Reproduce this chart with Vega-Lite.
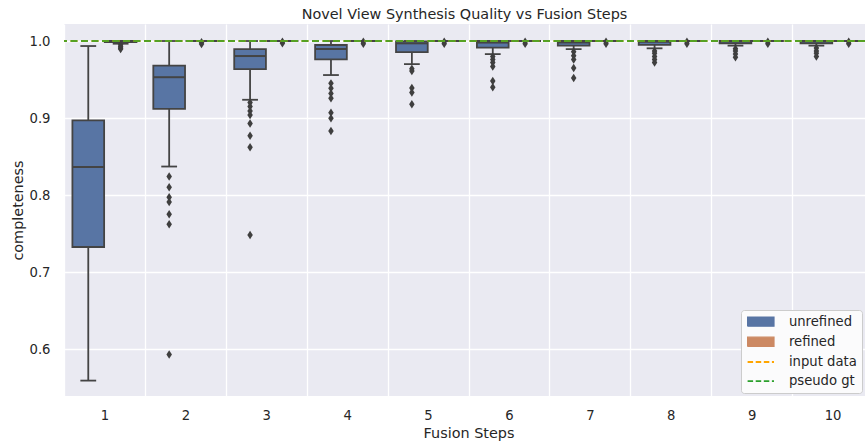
{
  "$schema": "https://vega.github.io/schema/vega-lite/v6.json",
  "width": 801,
  "height": 372,
  "autosize": {"type": "none"},
  "padding": {"left": 64, "top": 24, "right": 0, "bottom": 49},
  "title": {"text": "Novel View Synthesis Quality vs Fusion Steps", "fontSize": 14.4, "fontWeight": "normal", "color": "#262626", "anchor": "middle", "offset": 6, "dy": 15, "baseline": "alphabetic"},
  "datasets": {
    "boxes": [
      {"step": 1, "hue": "unrefined", "lower": 0.559, "q1": 0.7325, "median": 0.8365, "q3": 0.897, "upper": 0.9935},
      {"step": 1, "hue": "refined", "lower": 0.9965, "q1": 0.9985, "median": 1.0, "q3": 1.0, "upper": 1.0},
      {"step": 2, "hue": "unrefined", "lower": 0.837, "q1": 0.912, "median": 0.953, "q3": 0.968, "upper": 1.0},
      {"step": 2, "hue": "refined", "lower": 1.0, "q1": 1.0, "median": 1.0, "q3": 1.0, "upper": 1.0},
      {"step": 3, "hue": "unrefined", "lower": 0.9237, "q1": 0.9636, "median": 0.9805, "q3": 0.9896, "upper": 1.0},
      {"step": 3, "hue": "refined", "lower": 1.0, "q1": 1.0, "median": 1.0, "q3": 1.0, "upper": 1.0},
      {"step": 4, "hue": "unrefined", "lower": 0.9558, "q1": 0.9762, "median": 0.9896, "q3": 0.9948, "upper": 1.0},
      {"step": 4, "hue": "refined", "lower": 1.0, "q1": 1.0, "median": 1.0, "q3": 1.0, "upper": 1.0},
      {"step": 5, "hue": "unrefined", "lower": 0.970, "q1": 0.9855, "median": 0.997, "q3": 0.9995, "upper": 1.0},
      {"step": 5, "hue": "refined", "lower": 1.0, "q1": 1.0, "median": 1.0, "q3": 1.0, "upper": 1.0},
      {"step": 6, "hue": "unrefined", "lower": 0.983, "q1": 0.9915, "median": 0.998, "q3": 1.0, "upper": 1.0},
      {"step": 6, "hue": "refined", "lower": 1.0, "q1": 1.0, "median": 1.0, "q3": 1.0, "upper": 1.0},
      {"step": 7, "hue": "unrefined", "lower": 0.9896, "q1": 0.994, "median": 0.998, "q3": 1.0, "upper": 1.0},
      {"step": 7, "hue": "refined", "lower": 1.0, "q1": 1.0, "median": 1.0, "q3": 1.0, "upper": 1.0},
      {"step": 8, "hue": "unrefined", "lower": 0.9905, "q1": 0.995, "median": 0.999, "q3": 1.0, "upper": 1.0},
      {"step": 8, "hue": "refined", "lower": 1.0, "q1": 1.0, "median": 1.0, "q3": 1.0, "upper": 1.0},
      {"step": 9, "hue": "unrefined", "lower": 0.994, "q1": 0.997, "median": 0.9995, "q3": 1.0, "upper": 1.0},
      {"step": 9, "hue": "refined", "lower": 1.0, "q1": 1.0, "median": 1.0, "q3": 1.0, "upper": 1.0},
      {"step": 10, "hue": "unrefined", "lower": 0.994, "q1": 0.997, "median": 0.9995, "q3": 1.0, "upper": 1.0},
      {"step": 10, "hue": "refined", "lower": 1.0, "q1": 1.0, "median": 1.0, "q3": 1.0, "upper": 1.0}
    ],
    "outliers": [
      {"step": 1, "hue": "refined", "value": 0.995},
      {"step": 1, "hue": "refined", "value": 0.993},
      {"step": 1, "hue": "refined", "value": 0.991},
      {"step": 1, "hue": "refined", "value": 0.9895},
      {"step": 2, "hue": "unrefined", "value": 0.824},
      {"step": 2, "hue": "unrefined", "value": 0.81},
      {"step": 2, "hue": "unrefined", "value": 0.797},
      {"step": 2, "hue": "unrefined", "value": 0.791},
      {"step": 2, "hue": "unrefined", "value": 0.775},
      {"step": 2, "hue": "unrefined", "value": 0.762},
      {"step": 2, "hue": "unrefined", "value": 0.593},
      {"step": 2, "hue": "refined", "value": 0.9985},
      {"step": 2, "hue": "refined", "value": 0.996},
      {"step": 3, "hue": "unrefined", "value": 0.920},
      {"step": 3, "hue": "unrefined", "value": 0.915},
      {"step": 3, "hue": "unrefined", "value": 0.909},
      {"step": 3, "hue": "unrefined", "value": 0.904},
      {"step": 3, "hue": "unrefined", "value": 0.893},
      {"step": 3, "hue": "unrefined", "value": 0.877},
      {"step": 3, "hue": "unrefined", "value": 0.862},
      {"step": 3, "hue": "unrefined", "value": 0.748},
      {"step": 3, "hue": "refined", "value": 0.999},
      {"step": 3, "hue": "refined", "value": 0.997},
      {"step": 4, "hue": "unrefined", "value": 0.945},
      {"step": 4, "hue": "unrefined", "value": 0.9386},
      {"step": 4, "hue": "unrefined", "value": 0.932},
      {"step": 4, "hue": "unrefined", "value": 0.9256},
      {"step": 4, "hue": "unrefined", "value": 0.907},
      {"step": 4, "hue": "unrefined", "value": 0.8996},
      {"step": 4, "hue": "unrefined", "value": 0.883},
      {"step": 4, "hue": "refined", "value": 0.999},
      {"step": 4, "hue": "refined", "value": 0.9965},
      {"step": 5, "hue": "unrefined", "value": 0.964},
      {"step": 5, "hue": "unrefined", "value": 0.961},
      {"step": 5, "hue": "unrefined", "value": 0.939},
      {"step": 5, "hue": "unrefined", "value": 0.933},
      {"step": 5, "hue": "unrefined", "value": 0.918},
      {"step": 5, "hue": "refined", "value": 0.999},
      {"step": 5, "hue": "refined", "value": 0.9965},
      {"step": 6, "hue": "unrefined", "value": 0.980},
      {"step": 6, "hue": "unrefined", "value": 0.976},
      {"step": 6, "hue": "unrefined", "value": 0.972},
      {"step": 6, "hue": "unrefined", "value": 0.967},
      {"step": 6, "hue": "unrefined", "value": 0.948},
      {"step": 6, "hue": "unrefined", "value": 0.940},
      {"step": 6, "hue": "refined", "value": 0.999},
      {"step": 6, "hue": "refined", "value": 0.9965},
      {"step": 7, "hue": "unrefined", "value": 0.986},
      {"step": 7, "hue": "unrefined", "value": 0.981},
      {"step": 7, "hue": "unrefined", "value": 0.976},
      {"step": 7, "hue": "unrefined", "value": 0.965},
      {"step": 7, "hue": "unrefined", "value": 0.952},
      {"step": 7, "hue": "refined", "value": 0.999},
      {"step": 7, "hue": "refined", "value": 0.9965},
      {"step": 8, "hue": "unrefined", "value": 0.987},
      {"step": 8, "hue": "unrefined", "value": 0.984},
      {"step": 8, "hue": "unrefined", "value": 0.980},
      {"step": 8, "hue": "unrefined", "value": 0.976},
      {"step": 8, "hue": "unrefined", "value": 0.972},
      {"step": 8, "hue": "refined", "value": 0.999},
      {"step": 8, "hue": "refined", "value": 0.9965},
      {"step": 9, "hue": "unrefined", "value": 0.990},
      {"step": 9, "hue": "unrefined", "value": 0.987},
      {"step": 9, "hue": "unrefined", "value": 0.983},
      {"step": 9, "hue": "unrefined", "value": 0.979},
      {"step": 9, "hue": "refined", "value": 0.999},
      {"step": 9, "hue": "refined", "value": 0.9965},
      {"step": 10, "hue": "unrefined", "value": 0.991},
      {"step": 10, "hue": "unrefined", "value": 0.987},
      {"step": 10, "hue": "unrefined", "value": 0.984},
      {"step": 10, "hue": "unrefined", "value": 0.980},
      {"step": 10, "hue": "refined", "value": 0.999},
      {"step": 10, "hue": "refined", "value": 0.9965}
    ],
    "refs": [
      {"label": "input data", "value": 1.0},
      {"label": "pseudo gt", "value": 1.0}
    ]
  },
  "encoding": {
    "y": {"type": "quantitative", "title": "completeness",
      "scale": {"domain": [0.539, 1.0221], "nice": false, "zero": false},
      "axis": {"values": [0.6, 0.7, 0.8, 0.9, 1.0], "format": ".1f", "grid": true, "labelPadding": 14, "titlePadding": 4}}
  },
  "layer": [
    {
      "encoding": {
        "x": {"field": "step", "type": "ordinal", "title": "Fusion Steps",
          "scale": {"type": "band", "paddingInner": 0, "paddingOuter": 0, "range": [0, 809]},
          "axis": {"labelAngle": 0, "tickBand": "extent", "grid": true, "labelPadding": 13, "titlePadding": 5}},
        "xOffset": {"field": "hue", "type": "nominal", "scale": {"domain": ["unrefined", "refined"], "paddingInner": 0.02, "paddingOuter": 0.26}}
      },
      "layer": [
        {
          "data": {"name": "boxes"},
          "mark": {"type": "rule", "color": "#444444", "strokeWidth": 1.8},
          "encoding": {"y": {"field": "lower"}, "y2": {"field": "upper"}}
        },
        {
          "data": {"name": "boxes"},
          "mark": {"type": "bar", "stroke": "#444444", "strokeWidth": 1.8, "opacity": 1},
          "encoding": {
            "y": {"field": "q1"},
            "y2": {"field": "q3"},
            "color": {"field": "hue", "type": "nominal",
              "scale": {"domain": ["unrefined", "refined", "input data", "pseudo gt"], "range": ["#5875A4", "#CC8963", "#FFA500", "#2CA02C"]},
              "legend": {
                "title": null, "orient": "bottom-right", "offset": 3,
                "padding": 5, "cornerRadius": 3, "strokeColor": "#cccccc", "fillColor": "#fbfbfc",
                "labelFontSize": 13.2, "labelColor": "#262626", "labelFont": "DejaVu Sans",
                "symbolSize": 100, "symbolOffset": 8.2, "labelOffset": 21.5, "rowPadding": 5.2,
                "encoding": {"symbols": {
                  "shape": {"value": {"expr": "(datum.value == 'input data' || datum.value == 'pseudo gt') ? 'M-2.64,0H2.64' : 'M-2.64,-0.92H2.64V0.92H-2.64Z'"}},
                  "fill": {"value": {"expr": "datum.value == 'unrefined' ? '#5875A4' : (datum.value == 'refined' ? '#CC8963' : 'transparent')"}},
                  "stroke": {"value": {"expr": "datum.value == 'input data' ? '#FFA500' : (datum.value == 'pseudo gt' ? '#2CA02C' : '#444444')"}},
                  "strokeDash": {"value": {"expr": "(datum.value == 'input data' || datum.value == 'pseudo gt') ? [5.5, 2.6] : [1, 0]"}},
                  "strokeWidth": {"value": {"expr": "(datum.value == 'input data' || datum.value == 'pseudo gt') ? 1.8 : 1.2"}},
                  "opacity": {"value": 1}
                }}
              }
            }
          }
        },
        {
          "data": {"name": "boxes"},
          "mark": {"type": "tick", "color": "#444444", "size": 31.5, "thickness": 2, "opacity": 1},
          "encoding": {"y": {"field": "median"}}
        },
        {
          "data": {"name": "boxes"},
          "mark": {"type": "tick", "color": "#444444", "size": 15.8, "thickness": 1.8, "opacity": 1},
          "encoding": {"y": {"field": "lower"}}
        },
        {
          "data": {"name": "boxes"},
          "mark": {"type": "tick", "color": "#444444", "size": 15.8, "thickness": 1.8, "opacity": 1},
          "encoding": {"y": {"field": "upper"}}
        },
        {
          "data": {"name": "outliers"},
          "mark": {"type": "point", "shape": "M0,-1L0.65,0L0,1L-0.65,0Z", "filled": true, "color": "#3f3f3f", "size": 72, "opacity": 1},
          "encoding": {"y": {"field": "value"}}
        }
      ]
    },
    {
      "data": {"name": "refs"},
      "mark": {"type": "rule", "strokeWidth": 2, "strokeDash": [7, 3.5]},
      "encoding": {
        "y": {"field": "value"},
        "color": {"field": "label", "type": "nominal",
          "legend": {
            "title": null, "orient": "bottom-right", "offset": 3,
            "padding": 5, "cornerRadius": 3, "strokeColor": "#cccccc", "fillColor": "#fbfbfc",
            "labelFontSize": 13.2, "labelColor": "#262626", "labelFont": "DejaVu Sans",
            "symbolSize": 100, "symbolOffset": 8.2, "labelOffset": 21.5, "rowPadding": 5.2,
            "encoding": {"symbols": {
              "shape": {"value": {"expr": "(datum.value == 'input data' || datum.value == 'pseudo gt') ? 'M-2.64,0H2.64' : 'M-2.64,-0.92H2.64V0.92H-2.64Z'"}},
              "fill": {"value": {"expr": "datum.value == 'unrefined' ? '#5875A4' : (datum.value == 'refined' ? '#CC8963' : 'transparent')"}},
              "stroke": {"value": {"expr": "datum.value == 'input data' ? '#FFA500' : (datum.value == 'pseudo gt' ? '#2CA02C' : '#444444')"}},
              "strokeDash": {"value": {"expr": "(datum.value == 'input data' || datum.value == 'pseudo gt') ? [5.5, 2.6] : [1, 0]"}},
              "strokeWidth": {"value": {"expr": "(datum.value == 'input data' || datum.value == 'pseudo gt') ? 1.8 : 1.2"}},
              "opacity": {"value": 1}
            }}
          }
        },
        "opacity": {"condition": {"test": "datum.label == 'pseudo gt'", "value": 0.8}, "value": 1}
      }
    }
  ],
  "config": {
    "font": "DejaVu Sans",
    "view": {"fill": "#EAEAF2", "stroke": null},
    "axis": {"domain": false, "ticks": false, "gridColor": "#ffffff", "gridWidth": 1.3, "labelFontSize": 13.2, "labelColor": "#262626", "titleFontSize": 14.4, "titleFontWeight": "normal", "titleColor": "#262626"}
  }
}
